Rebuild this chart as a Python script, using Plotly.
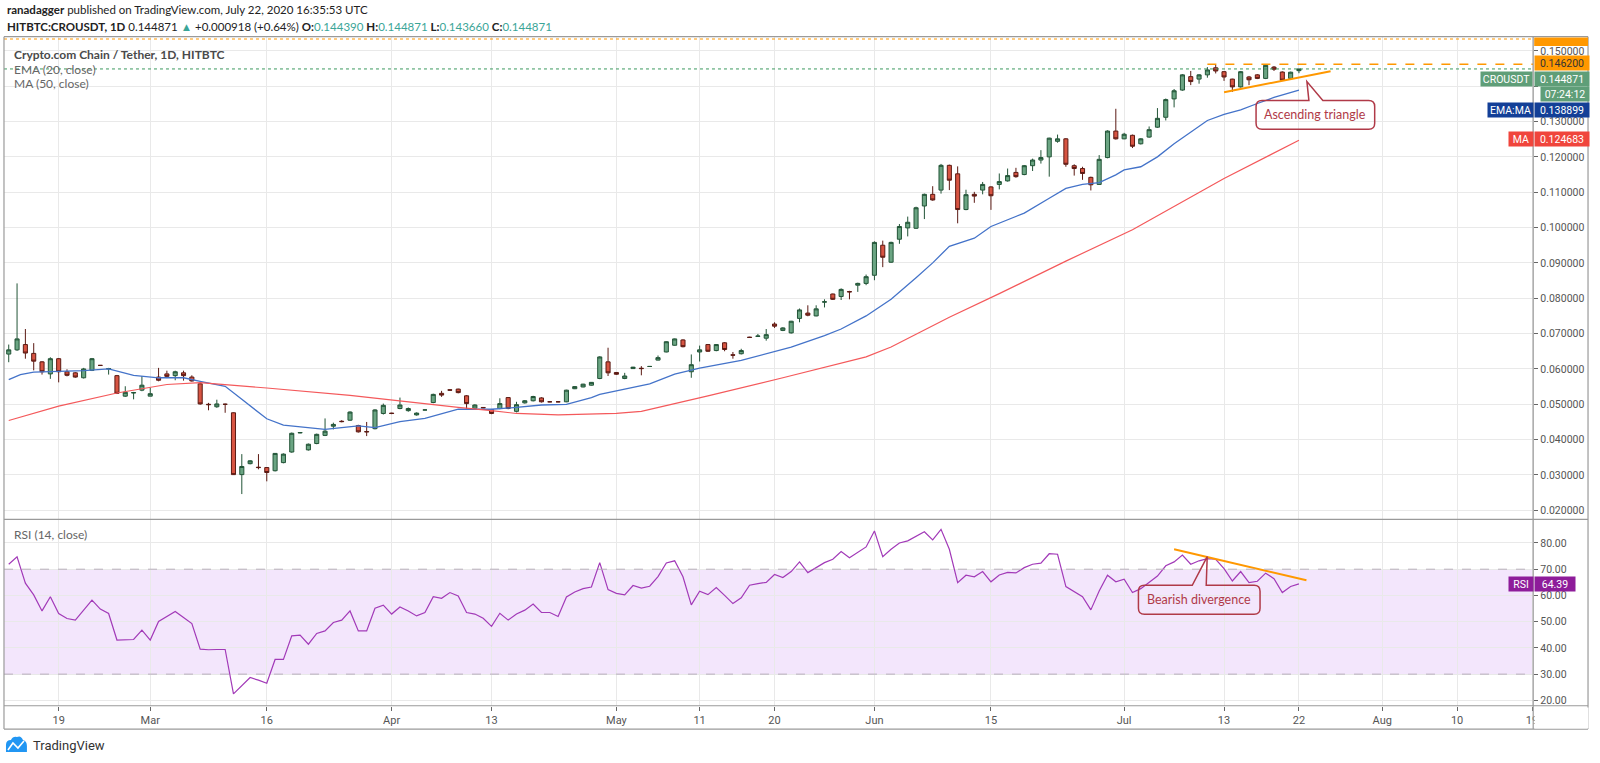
import plotly.graph_objects as go

W, H = 1600, 763

# daily candles, bar 1 .. bar 156 (= Jul 22 2020); the HitBTC feed skips a few days in Mar/Apr
opens = [0.0642, 0.0654, 0.0669, 0.0644, 0.0620, 0.0586, 0.0629, 0.0592, 0.0589, 0.0575,
         0.0596, 0.0610, 0.0600, 0.0581, 0.0523, 0.0532, 0.0540, 0.0523, 0.0577, 0.0586,
         0.0581, 0.0589, 0.0577, 0.0558, 0.0500, 0.0493, 0.0500, 0.0476, 0.0301, 0.0332,
         0.0322, 0.0321, 0.0312, 0.0335, 0.0365, 0.0419, 0.0371, 0.0389, 0.0412, 0.0438,
         0.0452, 0.0455, 0.0440, 0.0423, 0.0431, 0.0474, 0.0475, 0.0488, 0.0482, 0.0470,
         0.0484, 0.0505, 0.0531, 0.0541, 0.0543, 0.0524, 0.0489, 0.0491, 0.0485, 0.0488,
         0.0519, 0.0480, 0.0504, 0.0510, 0.0518, 0.0507, 0.0507, 0.0507, 0.0544, 0.0549,
         0.0554, 0.0573, 0.0620, 0.0590, 0.0573, 0.0601, 0.0602, 0.0607, 0.0625, 0.0648,
         0.0667, 0.0682, 0.0592, 0.0648, 0.0669, 0.0652, 0.0674, 0.0640, 0.0643, 0.0690,
         0.0692, 0.0687, 0.0727, 0.0709, 0.0702, 0.0743, 0.0758, 0.0750, 0.0789, 0.0812,
         0.0805, 0.0819, 0.0837, 0.0842, 0.0865, 0.0950, 0.0902, 0.0967, 0.0999, 0.0998,
         0.1061, 0.1094, 0.1106, 0.1176, 0.1152, 0.1051, 0.1094, 0.1106, 0.1115, 0.1122,
         0.1132, 0.1156, 0.1150, 0.1175, 0.1191, 0.1200, 0.1244, 0.1251, 0.1175, 0.1167,
         0.1142, 0.1122, 0.1198, 0.1273, 0.1251, 0.1261, 0.1237, 0.1256, 0.1284, 0.1312,
         0.1364, 0.1389, 0.1427, 0.1420, 0.1432, 0.1452, 0.1441, 0.1420, 0.1398, 0.1426,
         0.1432, 0.1422, 0.1454, 0.1440, 0.1422, 0.144390]
highs = [0.0669, 0.0842, 0.0713, 0.0673, 0.0622, 0.0633, 0.0631, 0.0599, 0.0591, 0.0603,
         0.0631, 0.0611, 0.0603, 0.0583, 0.0551, 0.0535, 0.0580, 0.0547, 0.0603, 0.0595,
         0.0595, 0.0595, 0.0582, 0.0560, 0.0504, 0.0513, 0.0502, 0.0477, 0.0359, 0.0342,
         0.0359, 0.0322, 0.0362, 0.0361, 0.0420, 0.0421, 0.0389, 0.0417, 0.0460, 0.0448,
         0.0455, 0.0480, 0.0442, 0.0450, 0.0486, 0.0502, 0.0476, 0.0519, 0.0491, 0.0477,
         0.0485, 0.0530, 0.0538, 0.0542, 0.0544, 0.0526, 0.0500, 0.0492, 0.0486, 0.0517,
         0.0520, 0.0507, 0.0512, 0.0524, 0.0520, 0.0508, 0.0508, 0.0541, 0.0551, 0.0558,
         0.0563, 0.0636, 0.0660, 0.0591, 0.0589, 0.0606, 0.0608, 0.0608, 0.0638, 0.0678,
         0.0686, 0.0684, 0.0641, 0.0666, 0.0670, 0.0670, 0.0676, 0.0648, 0.0657, 0.0691,
         0.0699, 0.0713, 0.0732, 0.0718, 0.0736, 0.0771, 0.0780, 0.0780, 0.0797, 0.0813,
         0.0828, 0.0821, 0.0844, 0.0867, 0.0961, 0.0963, 0.0960, 0.1010, 0.1031, 0.1059,
         0.1096, 0.1117, 0.1180, 0.1178, 0.1173, 0.1107, 0.1101, 0.1129, 0.1117, 0.1153,
         0.1167, 0.1169, 0.1177, 0.1195, 0.1219, 0.1254, 0.1263, 0.1253, 0.1179, 0.1172,
         0.1144, 0.1205, 0.1275, 0.1336, 0.1268, 0.1263, 0.1253, 0.1286, 0.1338, 0.1365,
         0.1392, 0.1434, 0.1443, 0.1434, 0.1454, 0.1460, 0.1443, 0.1421, 0.1443, 0.1429,
         0.1434, 0.1462, 0.1457, 0.1442, 0.1441, 0.144871]
lows = [0.0619, 0.0651, 0.0629, 0.0596, 0.0584, 0.0572, 0.0562, 0.0579, 0.0575, 0.0573,
        0.0594, 0.0609, 0.0584, 0.0529, 0.0521, 0.0514, 0.0537, 0.0523, 0.0565, 0.0574,
        0.0568, 0.0567, 0.0564, 0.0499, 0.0483, 0.0490, 0.0476, 0.0300, 0.0246, 0.0330,
        0.0316, 0.0282, 0.0310, 0.0333, 0.0363, 0.0418, 0.0369, 0.0387, 0.0410, 0.0429,
        0.0449, 0.0453, 0.0420, 0.0410, 0.0429, 0.0471, 0.0472, 0.0486, 0.0479, 0.0468,
        0.0483, 0.0503, 0.0521, 0.0539, 0.0531, 0.0486, 0.0487, 0.0489, 0.0472, 0.0486,
        0.0486, 0.0477, 0.0502, 0.0508, 0.0505, 0.0506, 0.0506, 0.0506, 0.0543, 0.0548,
        0.0553, 0.0571, 0.0580, 0.0583, 0.0571, 0.0600, 0.0582, 0.0606, 0.0624, 0.0647,
        0.0666, 0.0661, 0.0575, 0.0621, 0.0648, 0.0650, 0.0650, 0.0629, 0.0641, 0.0688,
        0.0691, 0.0680, 0.0716, 0.0707, 0.0700, 0.0732, 0.0749, 0.0749, 0.0774, 0.0795,
        0.0795, 0.0797, 0.0818, 0.0837, 0.0851, 0.0888, 0.0900, 0.0954, 0.0975, 0.0996,
        0.1024, 0.1076, 0.1096, 0.1106, 0.1012, 0.1049, 0.1070, 0.1094, 0.1050, 0.1108,
        0.1130, 0.1141, 0.1148, 0.1160, 0.1181, 0.1144, 0.1240, 0.1172, 0.1147, 0.1135,
        0.1105, 0.1121, 0.1196, 0.1249, 0.1250, 0.1225, 0.1235, 0.1254, 0.1282, 0.1303,
        0.1340, 0.1387, 0.1403, 0.1407, 0.1424, 0.1436, 0.1415, 0.1384, 0.1396, 0.1403,
        0.1420, 0.1420, 0.1443, 0.1415, 0.1420, 0.143660]
closes = [0.0654, 0.0685, 0.0645, 0.0622, 0.0592, 0.0629, 0.0592, 0.0582, 0.0577, 0.0600,
          0.0629, 0.0610, 0.0601, 0.0531, 0.0534, 0.0533, 0.0554, 0.0530, 0.0568, 0.0579,
          0.0592, 0.0581, 0.0566, 0.0501, 0.0499, 0.0501, 0.0500, 0.0301, 0.0324, 0.0340,
          0.0321, 0.0307, 0.0361, 0.0359, 0.0418, 0.0420, 0.0387, 0.0415, 0.0424, 0.0443,
          0.0451, 0.0478, 0.0422, 0.0422, 0.0484, 0.0497, 0.0474, 0.0498, 0.0488, 0.0475,
          0.0484, 0.0528, 0.0526, 0.0540, 0.0533, 0.0502, 0.0498, 0.0490, 0.0474, 0.0502,
          0.0488, 0.0499, 0.0510, 0.0522, 0.0507, 0.0507, 0.0507, 0.0540, 0.0550, 0.0557,
          0.0562, 0.0634, 0.0589, 0.0585, 0.0580, 0.0605, 0.0601, 0.0607, 0.0632, 0.0677,
          0.0685, 0.0663, 0.0612, 0.0654, 0.0650, 0.0669, 0.0655, 0.0639, 0.0652, 0.0689,
          0.0693, 0.0697, 0.0721, 0.0716, 0.0735, 0.0767, 0.0752, 0.0770, 0.0790, 0.0797,
          0.0825, 0.0818, 0.0842, 0.0861, 0.0958, 0.0916, 0.0958, 0.1003, 0.1015, 0.1056,
          0.1094, 0.1078, 0.1176, 0.1134, 0.1051, 0.1093, 0.1089, 0.1122, 0.1090, 0.1130,
          0.1147, 0.1144, 0.1175, 0.1191, 0.1198, 0.1253, 0.1251, 0.1179, 0.1167, 0.1153,
          0.1121, 0.1193, 0.1273, 0.1251, 0.1264, 0.1230, 0.1251, 0.1277, 0.1309, 0.1362,
          0.1387, 0.1432, 0.1413, 0.1432, 0.1446, 0.1443, 0.1426, 0.1398, 0.1441, 0.1418,
          0.1422, 0.1459, 0.1448, 0.1417, 0.143953, 0.144871]
bars = list(range(1, len(closes) + 1))

# EMA(20) and MA(50) at a few bars
ema_bars = [1, 2.4, 4, 7, 10, 13, 16, 19, 22, 24, 27, 29, 32, 34, 37, 39, 43, 45, 48, 51,
            55, 59, 62, 65, 68, 71, 72, 77, 78, 81, 84, 89, 92, 95, 99, 101, 104, 107, 110,
            112, 114, 117, 119, 120.4, 123, 126, 128, 130, 132, 134, 135, 137, 139, 141,
            143, 145, 147, 149, 151, 153, 156]
ema_vals = [0.0570, 0.0584, 0.0591, 0.0592, 0.0595, 0.0600, 0.0582, 0.0575, 0.0575, 0.0565,
            0.0551, 0.0514, 0.0459, 0.0441, 0.0434, 0.0429, 0.0439, 0.0434, 0.0451, 0.0460,
            0.0486, 0.0486, 0.0491, 0.0498, 0.0500, 0.0519, 0.0528, 0.0552, 0.0558, 0.0585,
            0.0602, 0.0624, 0.0643, 0.0662, 0.0694, 0.0713, 0.0750, 0.0797, 0.0858, 0.0900,
            0.0947, 0.0970, 0.1003, 0.1016, 0.1041, 0.1083, 0.1111, 0.1122, 0.1127, 0.1149,
            0.1163, 0.1172, 0.1200, 0.1237, 0.1270, 0.1303, 0.1320, 0.1333, 0.1351, 0.1368,
            0.138899]
ma_bars = [1, 7, 14, 20, 24, 27, 32, 42, 48, 55, 59, 62, 67, 74, 77, 81, 85, 94, 104, 107,
           112, 114, 120, 128, 136, 147, 156]
ma_vals = [0.0454, 0.0495, 0.0532, 0.0556, 0.0561, 0.0556, 0.0546, 0.0525, 0.0509, 0.0491,
           0.0482, 0.0474, 0.0470, 0.0474, 0.0480, 0.0503, 0.0524, 0.0575, 0.0634, 0.0662,
           0.0722, 0.0746, 0.0813, 0.0905, 0.0994, 0.1139, 0.124683]

rsi = [71.9, 74.7, 64.7, 60.2, 54.1, 59.5, 53.1, 51.2, 50.6, 54.4,
       58.2, 54.8, 53.1, 43.0, 43.2, 43.2, 46.8, 43.0, 50.1, 52.0,
       53.9, 51.6, 49.3, 39.5, 39.3, 39.4, 39.4, 22.5, 25.5, 28.7,
       27.7, 26.5, 35.6, 35.6, 44.6, 44.9, 41.4, 45.5, 46.5, 49.7,
       50.6, 54.1, 46.5, 46.5, 55.1, 56.3, 52.9, 55.6, 54.1, 52.2,
       53.5, 59.5, 58.9, 61.1, 59.8, 53.5, 52.9, 51.3, 48.2, 53.2,
       50.6, 52.9, 54.4, 56.7, 53.5, 53.5, 52.0, 59.4, 61.3, 62.6,
       63.2, 72.5, 62.2, 60.8, 60.2, 63.8, 62.8, 63.5, 67.2, 72.4,
       73.2, 67.1, 56.4, 61.6, 60.3, 63.0, 60.0, 56.9, 59.1, 63.9,
       64.5, 65.0, 68.0, 66.8, 69.1, 72.8, 68.7, 70.6, 72.5, 73.8,
       76.7, 74.4, 76.6, 78.5, 84.6, 74.8, 77.6, 80.0, 80.8, 82.7,
       84.3, 81.2, 85.2, 77.6, 64.9, 67.7, 67.1, 69.1, 65.2, 67.8,
       68.8, 68.6, 70.6, 71.9, 72.3, 75.9, 75.7, 63.4, 61.5, 59.5,
       54.5, 61.7, 67.7, 65.2, 66.2, 61.1, 62.6, 64.9, 67.4, 71.3,
       72.8, 75.4, 71.9, 73.2, 74.0, 73.8, 70.2, 65.5, 69.1, 64.9,
       65.4, 68.5, 66.4, 61.1, 63.4, 64.39]

tick_bars = [7, 18, 32, 47, 59, 74, 84, 93, 105, 119, 135, 147, 156, 166, 175, 184]
tick_text = ["19", "Mar", "16", "Apr", "13", "May", "11", "20", "Jun", "15", "Jul", "13",
             "22", "Aug", "10", "19"]

price_ticks = [0.02, 0.03, 0.04, 0.05, 0.06, 0.07, 0.08, 0.09, 0.10, 0.11, 0.12, 0.13, 0.14, 0.15]
# 0.140000 sits behind the price tags, as on the original
price_text = ["" if abs(v - 0.14) < 1e-9 else f"{v:.6f}" for v in price_ticks]

# drawings on the chart
resistance = 0.1462
top_line = 0.15335
support_bars = [147, 159.8]
support_vals = [0.1383, 0.1442]
div_bars = [141, 156.9]
div_vals = [77.6, 65.8]


def px(x):
    return x / W


def py(y):
    return 1 - y / H


def pt(x, y):
    return f"{px(x):.5f},{py(y):.5f}"


def callout_path(x0, y0, x1, y1, bl, br, tip, r=6):
    return (f"M {pt(x0 + r, y0)} L {pt(bl, y0)} L {pt(*tip)} L {pt(br, y0)} "
            f"L {pt(x1 - r, y0)} Q {pt(x1, y0)} {pt(x1, y0 + r)} L {pt(x1, y1 - r)} "
            f"Q {pt(x1, y1)} {pt(x1 - r, y1)} L {pt(x0 + r, y1)} Q {pt(x0, y1)} {pt(x0, y1 - r)} "
            f"L {pt(x0, y0 + r)} Q {pt(x0, y0)} {pt(x0 + r, y0)} Z")


GREEN = "#6ba583"
RED = "#d75442"
ORANGE = "#ff9800"
GRID = "#e9e9e9"
FRAME = "#9a9a9a"
CALLOUT = "#b03a48"

fig = go.Figure()

fig.add_trace(go.Candlestick(
    x=bars, open=opens, high=highs, low=lows, close=closes,
    increasing=dict(line=dict(color="#225437", width=1), fillcolor=GREEN),
    decreasing=dict(line=dict(color="#5b1a13", width=1), fillcolor=RED),
    whiskerwidth=0, showlegend=False, xaxis="x", yaxis="y"))

fig.add_trace(go.Scatter(x=ema_bars, y=ema_vals, mode="lines",
                         line=dict(color="#4473c9", width=1.3), showlegend=False,
                         xaxis="x", yaxis="y"))
fig.add_trace(go.Scatter(x=ma_bars, y=ma_vals, mode="lines",
                         line=dict(color="#f4595b", width=1.2), showlegend=False,
                         xaxis="x", yaxis="y"))

fig.add_trace(go.Scatter(x=bars, y=rsi, mode="lines",
                         line=dict(color="#a23ab8", width=1.2), showlegend=False,
                         xaxis="x", yaxis="y2"))

# trend lines drawn by the author
fig.add_trace(go.Scatter(x=support_bars, y=support_vals, mode="lines",
                         line=dict(color=ORANGE, width=2), showlegend=False,
                         xaxis="x", yaxis="y"))
fig.add_trace(go.Scatter(x=div_bars, y=div_vals, mode="lines",
                         line=dict(color=ORANGE, width=2), showlegend=False,
                         xaxis="x", yaxis="y2"))

shapes = []
# RSI band
shapes.append(dict(type="rect", xref="paper", yref="y2", x0=px(4), x1=px(1538), y0=30, y1=70,
                   fillcolor="#f3e6fc", line=dict(width=0), layer="below"))
for lvl in (30, 70):
    shapes.append(dict(type="line", xref="paper", yref="y2", x0=px(4), x1=px(1538), y0=lvl, y1=lvl,
                       line=dict(color="#b8aebc", width=1, dash="dash"), layer="above"))
# price lines
shapes.append(dict(type="line", xref="paper", yref="y", x0=px(4), x1=px(1538),
                   y0=closes[-1], y1=closes[-1], line=dict(color="#3c9a5f", width=1, dash="dot")))
shapes.append(dict(type="line", xref="paper", yref="y", x0=px(4), x1=px(1538),
                   y0=top_line, y1=top_line, line=dict(color=ORANGE, width=1.2, dash="dot")))
shapes.append(dict(type="line", xref="x", yref="y", x0=145, x1=184.2,
                   y0=resistance, y1=resistance, line=dict(color=ORANGE, width=1.5, dash="dash")))
# callouts
shapes.append(dict(type="path", xref="paper", yref="paper",
                   path=callout_path(1260, 100.7, 1379, 129.3, 1313, 1327, (1311, 81.7)),
                   line=dict(color=CALLOUT, width=1.5), fillcolor="rgba(255,255,255,0)"))
shapes.append(dict(type="path", xref="paper", yref="paper",
                   path=callout_path(1142, 586, 1264, 615, 1196, 1210, (1211, 557.3)),
                   line=dict(color=CALLOUT, width=1.5), fillcolor="rgba(255,255,255,0)"))
# frame
for (x0, y0, x1, y1) in [(4, 36.7, 1593, 36.7), (4, 36.7, 4, 730), (1593, 36.7, 1593, 730),
                         (4, 730, 1593, 730), (1538, 36.7, 1538, 730), (4, 520, 1593, 520),
                         (4, 706.7, 1593, 706.7)]:
    shapes.append(dict(type="line", xref="paper", yref="paper", x0=px(x0), x1=px(x1),
                       y0=py(y0), y1=py(y1), line=dict(color=FRAME, width=1.2), layer="above"))
# clipped orange price tag at the very top of the scale
shapes.append(dict(type="rect", xref="paper", yref="paper", x0=px(1539), x1=px(1593),
                   y0=py(46), y1=py(37.5), fillcolor=ORANGE, line=dict(width=0), layer="above"))
# TradingView logo
shapes.append(dict(type="path", xref="paper", yref="paper",
                   path=(f"M {pt(6, 753)} L {pt(6, 746)} Q {pt(6, 741)} {pt(11, 741)} "
                         f"Q {pt(13, 737)} {pt(17, 738)} Q {pt(21, 736)} {pt(23, 741)} "
                         f"Q {pt(27, 742)} {pt(27, 747)} L {pt(27, 753)} Z"),
                   fillcolor="#2196f3", line=dict(width=0)))
shapes.append(dict(type="path", xref="paper", yref="paper",
                   path=f"M {pt(8, 751)} L {pt(13, 744)} L {pt(18, 749)} L {pt(24, 742)}",
                   line=dict(color="white", width=1.6)))

fig.update_layout(shapes=shapes)

ann = []


def text(x, y, s, size=12, color="#333333", family="Lato", xanchor="left"):
    ann.append(dict(x=px(x), y=py(y), xref="paper", yref="paper", text=s, showarrow=False,
                    xanchor=xanchor, yanchor="middle", font=dict(size=size, color=color, family=family)))


def tag(x0, w, y, s, bg, fg="white", yref="paper"):
    ann.append(dict(x=px(x0), y=py(y) if yref == "paper" else y, xref="paper", yref=yref,
                    text=s, showarrow=False, xanchor="left", yanchor="middle", width=w, height=14,
                    align="center", bgcolor=bg, borderpad=0,
                    font=dict(size=10.5, color=fg, family="Roboto")))


TEAL = "#3aa597"
text(5, 10, "<b>ranadagger</b> published on TradingView.com, July 22, 2020 16:35:53 UTC", 11.5, "#222")
text(5, 26.7,
     f"<b>HITBTC:CROUSDT, 1D</b> {closes[-1]:.6f} <span style='color:{TEAL}'>▲</span> +0.000918 (+0.64%) "
     f"<b>O:</b><span style='color:{TEAL}'>{opens[-1]:.6f}</span> "
     f"<b>H:</b><span style='color:{TEAL}'>{highs[-1]:.6f}</span> "
     f"<b>L:</b><span style='color:{TEAL}'>{lows[-1]:.6f}</span> "
     f"<b>C:</b><span style='color:{TEAL}'>{closes[-1]:.6f}</span>", 11.5, "#222")
text(12, 55, "<b>Crypto.com Chain / Tether, 1D, HITBTC</b>", 12, "#4a4a4a")
text(12, 70, "EMA (20, close)", 12, "#666")
text(12, 83.5, "MA (50, close)", 12, "#666")
text(12, 535.5, "RSI (14, close)", 12, "#666")
text(31, 746.5, "TradingView", 13, "#333", "Roboto")

text(1319.5, 115, "Ascending triangle", 12.5, CALLOUT, xanchor="center")
text(1203, 600.5, "Bearish divergence", 12.5, CALLOUT, xanchor="center")

tag(1539, 54, 63.4, f"{resistance:.6f}", ORANGE, "#333")
tag(1485, 51, 79, "CROUSDT", "#5f9e78")
tag(1539, 54, 79, f"{closes[-1]:.6f}", "#5f9e78")
tag(1545, 48, 94.3, "07:24:12", "#5f9e78")
tag(1492, 45, 110, "EMA:MA", "#133f97")
tag(1539, 54, 110, f"{ema_vals[-1]:.6f}", "#133f97")
tag(1513, 24, 139.3, "MA", "#f0453c")
tag(1539, 54, 139.3, f"{ma_vals[-1]:.6f}", "#f0453c")
tag(1513, 24, rsi[-1], "RSI", "#8e1c9a", yref="y2")
tag(1539, 40, rsi[-1], f"{rsi[-1]:.2f}", "#8e1c9a", yref="y2")

# the last date label is cut off by the price scale
ann.append(dict(x=px(1538.8), y=py(719), xref="paper", yref="paper", text="&nbsp;", showarrow=False,
                xanchor="left", yanchor="middle", width=53, height=20, bgcolor="white", borderpad=0))

fig.update_layout(annotations=ann)

fig.update_layout(
    width=W, height=H,
    margin=dict(l=0, r=0, t=0, b=0),
    paper_bgcolor="white", plot_bgcolor="white",
    font=dict(family="Lato, Roboto, sans-serif", size=11, color="#4a4a4a"),
    showlegend=False,
    xaxis=dict(domain=[px(4), px(1538)], range=[0.43, 184.14], anchor="y2",
               tickmode="array", tickvals=tick_bars, ticktext=tick_text,
               showgrid=True, gridcolor=GRID, gridwidth=1, zeroline=False,
               ticks="outside", ticklen=4, tickcolor="#666", showline=False,
               tickfont=dict(family="Roboto", size=11, color="#555"),
               rangeslider=dict(visible=False)),
    yaxis=dict(domain=[py(520), py(36.7)], range=[0.017455, 0.15401], side="right", anchor="x",
               tickmode="array", tickvals=price_ticks, ticktext=price_text,
               showgrid=True, gridcolor=GRID, zeroline=False, ticks="outside", ticklen=4,
               tickcolor="#666", tickfont=dict(family="Roboto", size=10.5, color="#555")),
    yaxis2=dict(domain=[py(706.7), py(520)], range=[17.94, 89.02], side="right", anchor="x",
                tick0=20, dtick=10, tickformat=".2f", showgrid=True, gridcolor=GRID,
                zeroline=False, ticks="outside", ticklen=4, tickcolor="#666",
                tickfont=dict(family="Roboto", size=10.5, color="#555")),
)

# the page body has a default 8px margin; drop it so the figure fills the window
fig.write_html("out.html", config={"displayModeBar": False},
               post_script="document.body.style.margin='0';document.body.style.overflow='hidden';")
